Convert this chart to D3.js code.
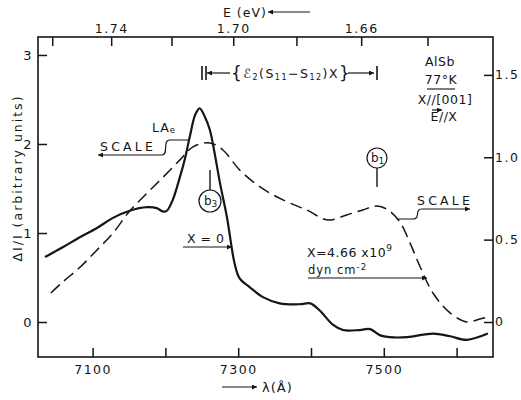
<!DOCTYPE html>
<html><head><meta charset="utf-8">
<script src="https://cdn.jsdelivr.net/npm/d3@7"></script>
<style>
body{margin:0;background:#fff}
svg text{font-family:"DejaVu Sans","Liberation Sans",sans-serif;fill:#151515}
</style></head><body>
<svg id="c" width="521" height="400"></svg>
<script>
// ---- data ----
const HC = 12398.4; // eV·Å
const wavelengthTicks = [7100, 7200, 7300, 7400, 7500, 7600];
const wavelengthLabels = [7100, 7300, 7500];
const energyTicks = [1.76, 1.74, 1.72, 1.70, 1.68, 1.66, 1.64];
const energyLabels = [1.74, 1.70, 1.66];
const leftTicks = [0, 1, 2, 3];
const rightTicks = [0, 0.5, 1.0, 1.5];

// X = 0 (solid, left scale)
const solidLambda = [7034.6,7059,7083,7106,7128,7151,7175,7188,7197,7202,7210,7220,7227,7234,7241,7247,7254,7261,7268,7275,7284.5,7291,7295,7302,7316,7334,7357,7385,7399,7412,7430,7444,7467,7481,7495,7508,7532,7568,7591,7614,7643];
const solidValue  = [0.73,0.84,0.955,1.056,1.17,1.25,1.29,1.28,1.24,1.25,1.37,1.63,1.84,2.10,2.33,2.40,2.31,2.16,1.88,1.56,1.18,0.84,0.66,0.49,0.39,0.28,0.21,0.20,0.21,0.13,-0.03,-0.09,-0.09,-0.08,-0.15,-0.17,-0.17,-0.13,-0.16,-0.20,-0.13];

// X = 4.66e9 dyn cm^-2 (dashed, right scale)
const dashedLambda = [7042.7,7059,7083,7106,7128,7151,7175,7197,7220,7238,7261,7279,7302,7330,7361.5,7394,7423,7449,7471,7490.5,7506,7522,7536,7550,7567.5,7591,7614,7632,7643];
const dashedValue  = [0.176,0.243,0.334,0.437,0.540,0.674,0.783,0.880,0.984,1.063,1.087,1.044,0.923,0.820,0.741,0.680,0.619,0.650,0.680,0.704,0.680,0.607,0.480,0.334,0.176,0.055,0.0,0.018,0.030];

// ---- layout ----
const svg = d3.select("#c");
const L = 38, R = 493, T = 37, B = 357;
const x  = d3.scaleLinear().domain([7025, 7650]).range([L, R]);
const yL = d3.scaleLinear().domain([-0.393, 3.202]).range([B, T]);
const yR = d3.scaleLinear().domain([-0.2125, 1.730]).range([B, T]);
const ink = "#151515";

const defs = svg.append("defs");
defs.append("marker").attr("id","ah").attr("viewBox","0 0 10 10")
  .attr("refX",10).attr("refY",5).attr("markerWidth",9).attr("markerHeight",5)
  .attr("markerUnits","userSpaceOnUse").attr("orient","auto-start-reverse")
  .append("path").attr("d","M0,0L10,5L0,10z").attr("fill",ink);

function styleAxis(g, size){
  g.select(".domain").remove();
  g.selectAll(".tick line").attr("stroke",ink).attr("stroke-width",1.5);
  g.selectAll("text").style("font-size",size+"px").style("letter-spacing","1.5px");
}

// bottom axis
svg.append("g").attr("transform",`translate(0,${B})`)
  .call(d3.axisBottom(x).tickValues(wavelengthTicks).tickSizeInner(-9).tickSizeOuter(0).tickPadding(8)
    .tickFormat(d => wavelengthLabels.includes(d) ? String(d) : ""))
  .call(g => styleAxis(g, 12.5));

// top axis (energy)
svg.append("g").attr("transform",`translate(0,${T})`)
  .call(d3.axisTop(x).tickValues(energyTicks.map(e => HC/e)).tickSizeInner(-9).tickSizeOuter(0).tickPadding(4)
    .tickFormat((d,i) => energyLabels.includes(energyTicks[i]) ? energyTicks[i].toFixed(2) : ""))
  .call(g => styleAxis(g, 12.5));

// left axis
svg.append("g").attr("transform",`translate(${L},0)`)
  .call(d3.axisLeft(yL).tickValues(leftTicks).tickSizeInner(-9).tickSizeOuter(0).tickPadding(5)
    .tickFormat(d3.format("d")))
  .call(g => styleAxis(g, 13));

// right axis
svg.append("g").attr("transform",`translate(${R},0)`)
  .call(d3.axisRight(yR).tickValues(rightTicks).tickSizeInner(-9).tickSizeOuter(0).tickPadding(2)
    .tickFormat(d => d === 0 ? "0" : d.toFixed(1)))
  .call(g => styleAxis(g, 12.5));

// frame
svg.append("rect").attr("x",L).attr("y",T).attr("width",R-L).attr("height",B-T)
  .attr("fill","none").attr("stroke",ink).attr("stroke-width",1.6);

// curves
const solid = solidLambda.map((l,i)=>[l, solidValue[i]]);
const dashed = dashedLambda.map((l,i)=>[l, dashedValue[i]]);
svg.append("path").datum(solid)
  .attr("d", d3.line().x(d=>x(d[0])).y(d=>yL(d[1])).curve(d3.curveCatmullRom.alpha(0.5)))
  .attr("fill","none").attr("stroke",ink).attr("stroke-width",2.2).attr("stroke-linejoin","round");
svg.append("path").datum(dashed)
  .attr("d", d3.line().x(d=>x(d[0])).y(d=>yR(d[1])).curve(d3.curveCatmullRom.alpha(0.5)))
  .attr("fill","none").attr("stroke",ink).attr("stroke-width",1.5).attr("stroke-dasharray","12,6");

// ---- annotations ----
function arrow(x1,y1,x2,y2){
  svg.append("line").attr("x1",x1).attr("y1",y1).attr("x2",x2).attr("y2",y2)
    .attr("stroke",ink).attr("stroke-width",1.2).attr("marker-end","url(#ah)");
}
function line(x1,y1,x2,y2,w){
  svg.append("line").attr("x1",x1).attr("y1",y1).attr("x2",x2).attr("y2",y2)
    .attr("stroke",ink).attr("stroke-width",w||1.4);
}
function txt(s,xx,yy,size,anchor,ls){
  return svg.append("text").attr("x",xx).attr("y",yy).attr("text-anchor",anchor||"start")
    .style("font-size",(size||12.5)+"px").style("letter-spacing",(ls||0)+"px").text(s);
}

// axis titles
txt("E (eV)",223,17,12.5,"start",1);
arrow(310,12,268,12);
txt("λ(Å)",262,392,13,"start",1);
arrow(222,387,257,387);
svg.append("text").attr("transform","translate(22,178) rotate(-90)").attr("text-anchor","middle")
  .style("font-size","12.5px").style("letter-spacing","2px").text("ΔI/I (arbitrary units)");

// bracket annotation
const bY = 73;
line(202,66,202,80,1.6); line(206,66,206,80,1.6);
arrow(230,bY,207,bY);
const br = svg.append("text").attr("x",231).attr("y",bY+5).style("font-size","12.5px").style("letter-spacing","1.5px");
br.append("tspan").style("font-size","17px").attr("dy",1).text("{");
br.append("tspan").attr("dy",-1).text("ℰ");
br.append("tspan").style("font-size","8px").attr("dy",2).text("2");
br.append("tspan").attr("dy",-2).text("(S");
br.append("tspan").style("font-size","8px").attr("dy",2).text("11");
br.append("tspan").attr("dy",-2).text("−S");
br.append("tspan").style("font-size","8px").attr("dy",2).text("12");
br.append("tspan").attr("dy",-2).text(")X");
br.append("tspan").style("font-size","17px").attr("dy",1).text("}");
arrow(348,bY,374,bY);
line(377,66,377,80,1.6);

// sample info
txt("AlSb",440,66,12.5,"middle",0.5);
txt("77°K",441,84,12.5,"middle",0.5);
line(427,89,455,89,1.1);
txt("X//[001]",445,104,12.5,"middle",0.5);
txt("E//X",444,121,12.5,"middle",0.5);
arrow(432,110,442,110);

// LA_e
const la = svg.append("text").attr("x",152).attr("y",132).style("font-size","12.5px").style("letter-spacing","1px");
la.append("tspan").text("LA");
la.append("tspan").style("font-size","8.5px").attr("dy",1).text("e");

// left SCALE
txt("SCALE",100,151,12.5,"start",3.2);
svg.append("path").attr("d","M188,140 L170,140 C162,140 169,155 162,155 L98,155")
  .attr("fill","none").attr("stroke",ink).attr("stroke-width",1.2).attr("marker-end","url(#ah)");

// right SCALE
txt("SCALE",417,205,12.5,"start",3.2);
svg.append("path").attr("d","M397,219 L413,219 C421,219 414,209 422,209 L470,209")
  .attr("fill","none").attr("stroke",ink).attr("stroke-width",1.2).attr("marker-end","url(#ah)");

// b3, b1 markers
function circ(cx,cy,r,label,lineTop,lineBot){
  svg.append("circle").attr("cx",cx).attr("cy",cy).attr("r",r).attr("fill","none").attr("stroke",ink).attr("stroke-width",1.2);
  const t = svg.append("text").attr("x",cx-6).attr("y",cy+4).style("font-size","12px");
  t.append("tspan").text("b");
  t.append("tspan").style("font-size","8.5px").attr("dy",2).text(label);
  line(cx,lineTop,cx,lineBot,1.4);
}
circ(210,201,11,"3",170,190);
circ(377,158,10,"1",168,187);

// X = 0
txt("X = 0",187,243,12.5,"start",0.5);
arrow(183,247,232,247);

// X = 4.66 x 10^9 dyn cm^-2
const xt = svg.append("text").attr("x",307).attr("y",257).style("font-size","12.5px").style("letter-spacing","0.5px");
xt.append("tspan").text("X=4.66 x10");
xt.append("tspan").style("font-size","9px").attr("dy",-6).text("9");
const dt = svg.append("text").attr("x",308).attr("y",274).style("font-size","11.5px").style("letter-spacing","1px");
dt.append("tspan").text("dyn cm");
dt.append("tspan").style("font-size","8.5px").attr("dy",-4).text("-2");
arrow(308,278,427,278);
</script>
</body></html>
